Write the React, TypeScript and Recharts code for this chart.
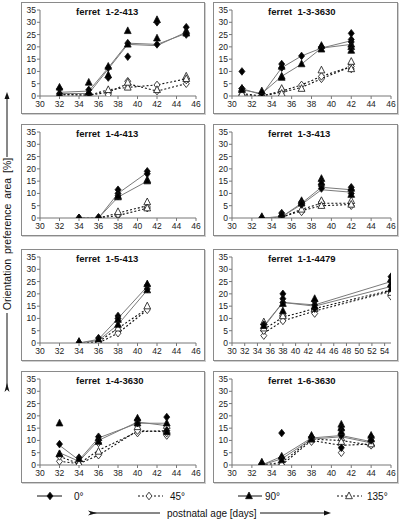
import React from "react"
import { ComposedChart, Line, Scatter, XAxis, YAxis } from "recharts"

// ---------------------------------------------------------------------------
// Axes
// ---------------------------------------------------------------------------

const X_TICKS = [30, 32, 34, 36, 38, 40, 42, 44, 46]
const X_TICKS_LONG = [30, 32, 34, 36, 38, 40, 42, 44, 46, 48, 50, 52, 54]
const Y_TICKS = [0, 5, 10, 15, 20, 25, 30, 35]

// ---------------------------------------------------------------------------
// Data — line values (L) and single measurements per day (P), per orientation
// ---------------------------------------------------------------------------

// ferret 1-2-413
const P1_DAYS = [32, 35, 37, 39, 42, 45]
const P1_L0 = [1.5, 2, 11.5, 21.5, 21, 25.5]
const P1_L90 = [1, 1, 11, 21, 20.5, 26]
const P1_L45 = [0.5, 0.3, 1.5, 5, 2, 5]
const P1_L135 = [0.8, 0.3, 2.5, 3.5, 4.5, 7]
const P1_P0 = [[3, 1], [2.5, 1], [11.5, 7.5], [21.5, 16], [30, 21], [28, 25]]
const P1_P90 = [[3.5, 0.5], [5.5, 1.5], [12, 8.5], [26.5, 21], [31, 23.5], [26.5, 25.5]]
const P1_P45 = [[0.5], [0.3], [1, 0.5], [6, 4.5], [4.5, 2], [5, 6.5]]
const P1_P135 = [[0.5], [0], [2.5], [3.5, 5.5], [2.5], [8, 7]]

// ferret 1-3-3630
const P2_DAYS = [31, 33, 35, 37, 39, 42]
const P2_L0 = [3, 0.5, 11.5, 16.3, 19.5, 22.5]
const P2_L90 = [2.5, 1, 8, 13, 19.5, 21]
const P2_L45 = [0.5, 0, 1.5, 3.5, 7, 12]
const P2_L135 = [1, 0, 2, 4.5, 8, 12]
const P2_P0 = [[10, 3], [1], [13, 11.5], [16.3], [20, 19.5], [25.5, 23, 22]]
const P2_P90 = [[2.5], [2], [12, 8, 7.5], [13], [20.5, 19], [21, 20, 18.5]]
const P2_P45 = [[3, 0.5], [0], [2.5, 1.5], [4.5], [7, 8], [13, 11, 12]]
const P2_P135 = [[3, 1], [0.3], [3, 1], [3], [10.5], [14, 11]]

// ferret 1-4-413
const P3_DAYS = [34, 36, 38, 41]
const P3_L0 = [0, 0, 10, 18.5]
const P3_L90 = [0, 0, 8.5, 15]
const P3_L45 = [0, 0, 1, 4]
const P3_L135 = [0, 0, 2, 5]
const P3_P0 = [[0], [0.3], [11.5, 10, 9], [19, 18]]
const P3_P90 = [[0], [0], [8.5, 9], [15.5, 15]]
const P3_P45 = [[0], [0], [1, 1.5], [4, 4.5]]
const P3_P135 = [[0], [0], [2.5], [6.5, 4]]

// ferret 1-3-413
const P4_DAYS = [33, 35, 37, 39, 42]
const P4_L0 = [0, 0.5, 6, 12.5, 11.5]
const P4_L90 = [0, 0.5, 5.5, 11.5, 10.5]
const P4_L45 = [0, 0.3, 3, 5, 5.5]
const P4_L135 = [0, 0.3, 3.5, 6, 6]
const P4_P0 = [[0], [2, 1], [6.5, 5.5], [13, 12], [12.5, 11.5, 10]]
const P4_P90 = [[0.3], [1.5], [7, 6], [16, 14.5], [12, 9.5]]
const P4_P45 = [[0], [0.5], [2.5], [5.5, 6.5], [5]]
const P4_P135 = [[0.5], [0], [3.5], [7, 5], [7, 5.5]]

// ferret 1-5-413
const P5_DAYS = [34, 36, 38, 41]
const P5_L0 = [0, 1.5, 10, 23]
const P5_L90 = [0, 1, 7.5, 21.5]
const P5_L45 = [0, 0, 4, 13.5]
const P5_L135 = [0, 0.5, 6, 14]
const P5_P0 = [[0], [2], [11, 10], [23.5, 22]]
const P5_P90 = [[0.5], [1.5], [9.5, 7.5], [24, 21.5]]
const P5_P45 = [[0], [0], [4], [13.5]]
const P5_P135 = [[0.5], [0.5], [6], [15]]

// ferret 1-1-4479
const P6_DAYS = [35, 38, 43, 55]
const P6_L0 = [7, 16.5, 15.5, 25]
const P6_L90 = [6.5, 16.5, 15, 23]
const P6_L45 = [4, 9, 13, 21]
const P6_L135 = [5.5, 10.5, 14, 21.5]
const P6_P0 = [[7.5], [20, 18, 16.5], [17, 15.5, 14], [27, 25, 23]]
const P6_P90 = [[7], [16, 13], [18, 15], [26, 24, 22]]
const P6_P45 = [[3, 5], [10.5, 9], [13, 12], [19, 21]]
const P6_P135 = [[8.5, 6], [12, 11], [14], [20.5]]

// ferret 1-4-3630
const P7_DAYS = [32, 34, 36, 40, 43]
const P7_L0 = [8, 2, 11, 17, 17]
const P7_L90 = [5, 1.5, 10, 17.5, 16]
const P7_L45 = [1.5, 0.5, 4, 14, 13.5]
const P7_L135 = [3.5, 0.5, 6, 13.5, 14]
const P7_P0 = [[8.5], [3], [11.5], [18.5, 17], [19.5, 14]]
const P7_P90 = [[17, 4.5], [2.5], [11, 9.5], [19, 17], [17, 13.5]]
const P7_P45 = [[1.5, 3.5], [0], [4, 9], [13, 14], [12, 13]]
const P7_P135 = [[4.5], [0.5], [5.5], [15.5], [16, 14]]

// ferret 1-6-3630
const P8_DAYS = [33, 35, 38, 41, 44]
const P8_L0 = [0, 3.5, 11, 12, 9.5]
const P8_L90 = [0, 2.5, 10.5, 11.5, 9]
const P8_L45 = [0, 0, 10, 8, 8.5]
const P8_L135 = [0, 1, 10.5, 10, 8]
const P8_P0 = [[0.5], [13, 3], [11.5], [14.5, 12, 7], [11.5, 10]]
const P8_P90 = [[1], [3.5, 2], [12, 10.5], [16.5, 15, 13.5], [12, 10.5]]
const P8_P45 = [[0], [0], [9.5], [5, 8], [8]]
const P8_P135 = [[1], [0.5], [10.5], [11, 9.5], [9, 8.5]]

// ---------------------------------------------------------------------------
// Helpers
// ---------------------------------------------------------------------------

function toRows(days: number[], l0: number[], l45: number[], l90: number[], l135: number[]) {
  return days.map((day, i) => ({ day, d0: l0[i], d45: l45[i], d90: l90[i], d135: l135[i] }))
}

function toPoints(days: number[], values: number[][]) {
  return days.flatMap((day, i) => values[i].map((v) => ({ day, v })))
}

const diamond = (fill: string) => (props: any) => {
  const { cx, cy } = props
  return (
    <polygon
      points={`${cx},${cy - 3.8} ${cx + 3},${cy} ${cx},${cy + 3.8} ${cx - 3},${cy}`}
      fill={fill}
      stroke="#111"
      strokeWidth={0.8}
    />
  )
}

const triangle = (fill: string) => (props: any) => {
  const { cx, cy } = props
  return (
    <polygon
      points={`${cx},${cy - 4} ${cx + 3.4},${cy + 2.7} ${cx - 3.4},${cy + 2.7}`}
      fill={fill}
      stroke="#111"
      strokeWidth={0.8}
    />
  )
}

const FONT = "'Liberation Sans', Arial, sans-serif"
const ROW_TOP = [2, 124, 249, 371]

type PanelCfg = {
  title: string
  days: number[]
  l0: number[]; l45: number[]; l90: number[]; l135: number[]
  p0: number[][]; p45: number[][]; p90: number[][]; p135: number[][]
  xTicks: number[]
  xMax: number
  col: 0 | 1
  row: number
}

const PANELS: PanelCfg[] = [
  { title: "ferret  1-2-413", days: P1_DAYS, l0: P1_L0, l45: P1_L45, l90: P1_L90, l135: P1_L135, p0: P1_P0, p45: P1_P45, p90: P1_P90, p135: P1_P135, xTicks: X_TICKS, xMax: 46, col: 0, row: 0 },
  { title: "ferret  1-3-3630", days: P2_DAYS, l0: P2_L0, l45: P2_L45, l90: P2_L90, l135: P2_L135, p0: P2_P0, p45: P2_P45, p90: P2_P90, p135: P2_P135, xTicks: X_TICKS, xMax: 46, col: 1, row: 0 },
  { title: "ferret  1-4-413", days: P3_DAYS, l0: P3_L0, l45: P3_L45, l90: P3_L90, l135: P3_L135, p0: P3_P0, p45: P3_P45, p90: P3_P90, p135: P3_P135, xTicks: X_TICKS, xMax: 46, col: 0, row: 1 },
  { title: "ferret  1-3-413", days: P4_DAYS, l0: P4_L0, l45: P4_L45, l90: P4_L90, l135: P4_L135, p0: P4_P0, p45: P4_P45, p90: P4_P90, p135: P4_P135, xTicks: X_TICKS, xMax: 46, col: 1, row: 1 },
  { title: "ferret  1-5-413", days: P5_DAYS, l0: P5_L0, l45: P5_L45, l90: P5_L90, l135: P5_L135, p0: P5_P0, p45: P5_P45, p90: P5_P90, p135: P5_P135, xTicks: X_TICKS, xMax: 46, col: 0, row: 2 },
  { title: "ferret  1-1-4479", days: P6_DAYS, l0: P6_L0, l45: P6_L45, l90: P6_L90, l135: P6_L135, p0: P6_P0, p45: P6_P45, p90: P6_P90, p135: P6_P135, xTicks: X_TICKS_LONG, xMax: 55, col: 1, row: 2 },
  { title: "ferret  1-4-3630", days: P7_DAYS, l0: P7_L0, l45: P7_L45, l90: P7_L90, l135: P7_L135, p0: P7_P0, p45: P7_P45, p90: P7_P90, p135: P7_P135, xTicks: X_TICKS, xMax: 46, col: 0, row: 3 },
  { title: "ferret  1-6-3630", days: P8_DAYS, l0: P8_L0, l45: P8_L45, l90: P8_L90, l135: P8_L135, p0: P8_P0, p45: P8_P45, p90: P8_P90, p135: P8_P135, xTicks: X_TICKS, xMax: 46, col: 1, row: 3 },
]

// ---------------------------------------------------------------------------
// Panel
// ---------------------------------------------------------------------------

function Panel({ cfg }: { cfg: PanelCfg }) {
  const left = cfg.col === 0 ? 21 : 213
  const width = cfg.col === 0 ? 184 : 185
  const right = cfg.col === 0 ? 8 : 6
  const rows = toRows(cfg.days, cfg.l0, cfg.l45, cfg.l90, cfg.l135)
  const tick = { fontSize: 8.5, fill: "#222", fontFamily: FONT }

  return (
    <div
      style={{
        position: "absolute",
        left,
        top: ROW_TOP[cfg.row],
        width,
        height: 112,
        boxSizing: "border-box",
        border: "1px solid #8a8a8a",
        boxShadow: "1px 1px 0 #cfcfcf",
        background: "#fff",
      }}
    >
      <div
        style={{
          position: "absolute",
          left: 54,
          top: 3,
          zIndex: 1,
          fontFamily: FONT,
          fontWeight: "bold",
          fontSize: 9.5,
          whiteSpace: "pre",
          color: "#111",
        }}
      >
        {cfg.title}
      </div>
      <ComposedChart width={width - 2} height={110} data={rows} margin={{ top: 7, right, left: 0, bottom: 0 }}>
        <XAxis
          dataKey="day"
          type="number"
          domain={[30, cfg.xMax]}
          ticks={cfg.xTicks}
          allowDataOverflow
          height={17}
          tick={tick}
          tickSize={3}
          stroke="#777"
          interval={0}
        />
        <YAxis
          type="number"
          domain={[0, 35]}
          ticks={Y_TICKS}
          allowDataOverflow
          width={18}
          tick={tick}
          tickSize={3}
          tickMargin={1}
          stroke="#777"
          interval={0}
        />

        <Line dataKey="d45" stroke="#111" strokeWidth={1.1} strokeDasharray="2 2" dot={false} isAnimationActive={false} />
        <Line dataKey="d135" stroke="#111" strokeWidth={1.1} strokeDasharray="2 2" dot={false} isAnimationActive={false} />
        <Scatter data={toPoints(cfg.days, cfg.p45)} dataKey="v" shape={diamond("#fff")} isAnimationActive={false} />
        <Scatter data={toPoints(cfg.days, cfg.p135)} dataKey="v" shape={triangle("#fff")} isAnimationActive={false} />

        <Line dataKey="d0" stroke="#7a7a7a" strokeWidth={1} dot={false} isAnimationActive={false} />
        <Line dataKey="d90" stroke="#7a7a7a" strokeWidth={1} dot={false} isAnimationActive={false} />
        <Scatter data={toPoints(cfg.days, cfg.p0)} dataKey="v" shape={diamond("#000")} isAnimationActive={false} />
        <Scatter data={toPoints(cfg.days, cfg.p90)} dataKey="v" shape={triangle("#000")} isAnimationActive={false} />
      </ComposedChart>
    </div>
  )
}

// ---------------------------------------------------------------------------
// Legend & axis titles
// ---------------------------------------------------------------------------

function Decorations() {
  const txt = { fontFamily: FONT, fill: "#111" }
  return (
    <svg width={400} height={521} style={{ position: "absolute", left: 0, top: 0, pointerEvents: "none" }}>
      {/* y-axis title with arrow */}
      <polygon points="7,92 9.5,99 4.5,99" fill="#111" />
      <line x1={7} y1={98} x2={7} y2={157} stroke="#111" strokeWidth={1} />
      <text x={11} y={234} transform="rotate(-90 11 234)" textAnchor="middle" fontSize={10.5} style={{ wordSpacing: 2 }} {...txt}>
        Orientation preference area [%]
      </text>
      <line x1={7} y1={313} x2={7} y2={386} stroke="#111" strokeWidth={1} />
      <polygon points="7,383 9.5,392 7,389.5 4.5,392" fill="#111" />

      {/* legend */}
      <line x1={37} y1={496} x2={62} y2={496} stroke="#111" strokeWidth={1} />
      {diamond("#000")({ cx: 50, cy: 496 })}
      <text x={74} y={499.5} fontSize={10} {...txt}>0°</text>

      <line x1={138} y1={496} x2={163} y2={496} stroke="#111" strokeWidth={1} strokeDasharray="2 2" />
      {diamond("#fff")({ cx: 149, cy: 496 })}
      <text x={170} y={499.5} fontSize={10} {...txt}>45°</text>

      <line x1={238} y1={496} x2={262} y2={496} stroke="#111" strokeWidth={1} />
      {triangle("#000")({ cx: 249, cy: 496 })}
      <text x={265} y={499.5} fontSize={10} {...txt}>90°</text>

      <line x1={337} y1={496} x2={362} y2={496} stroke="#111" strokeWidth={1} strokeDasharray="2 2" />
      {triangle("#fff")({ cx: 349, cy: 496 })}
      <text x={367} y={499.5} fontSize={10} {...txt}>135°</text>

      {/* x-axis title with arrow */}
      <polygon points="88,510.5 97,513 88,515.5 90.5,513" fill="#111" />
      <line x1={94} y1={513} x2={160} y2={513} stroke="#111" strokeWidth={1} />
      <text x={167} y={516.5} fontSize={10} {...txt}>postnatal age [days]</text>
      <line x1={260} y1={513} x2={326} y2={513} stroke="#111" strokeWidth={1} />
      <polygon points="331,513 324,510.5 324,515.5" fill="#111" />
    </svg>
  )
}

export default function App() {
  return (
    <div style={{ position: "absolute", left: 0, top: 0, width: 400, height: 521, background: "#fff", overflow: "hidden" }}>
      {PANELS.map((p) => (
        <Panel key={p.title} cfg={p} />
      ))}
      <Decorations />
    </div>
  )
}
